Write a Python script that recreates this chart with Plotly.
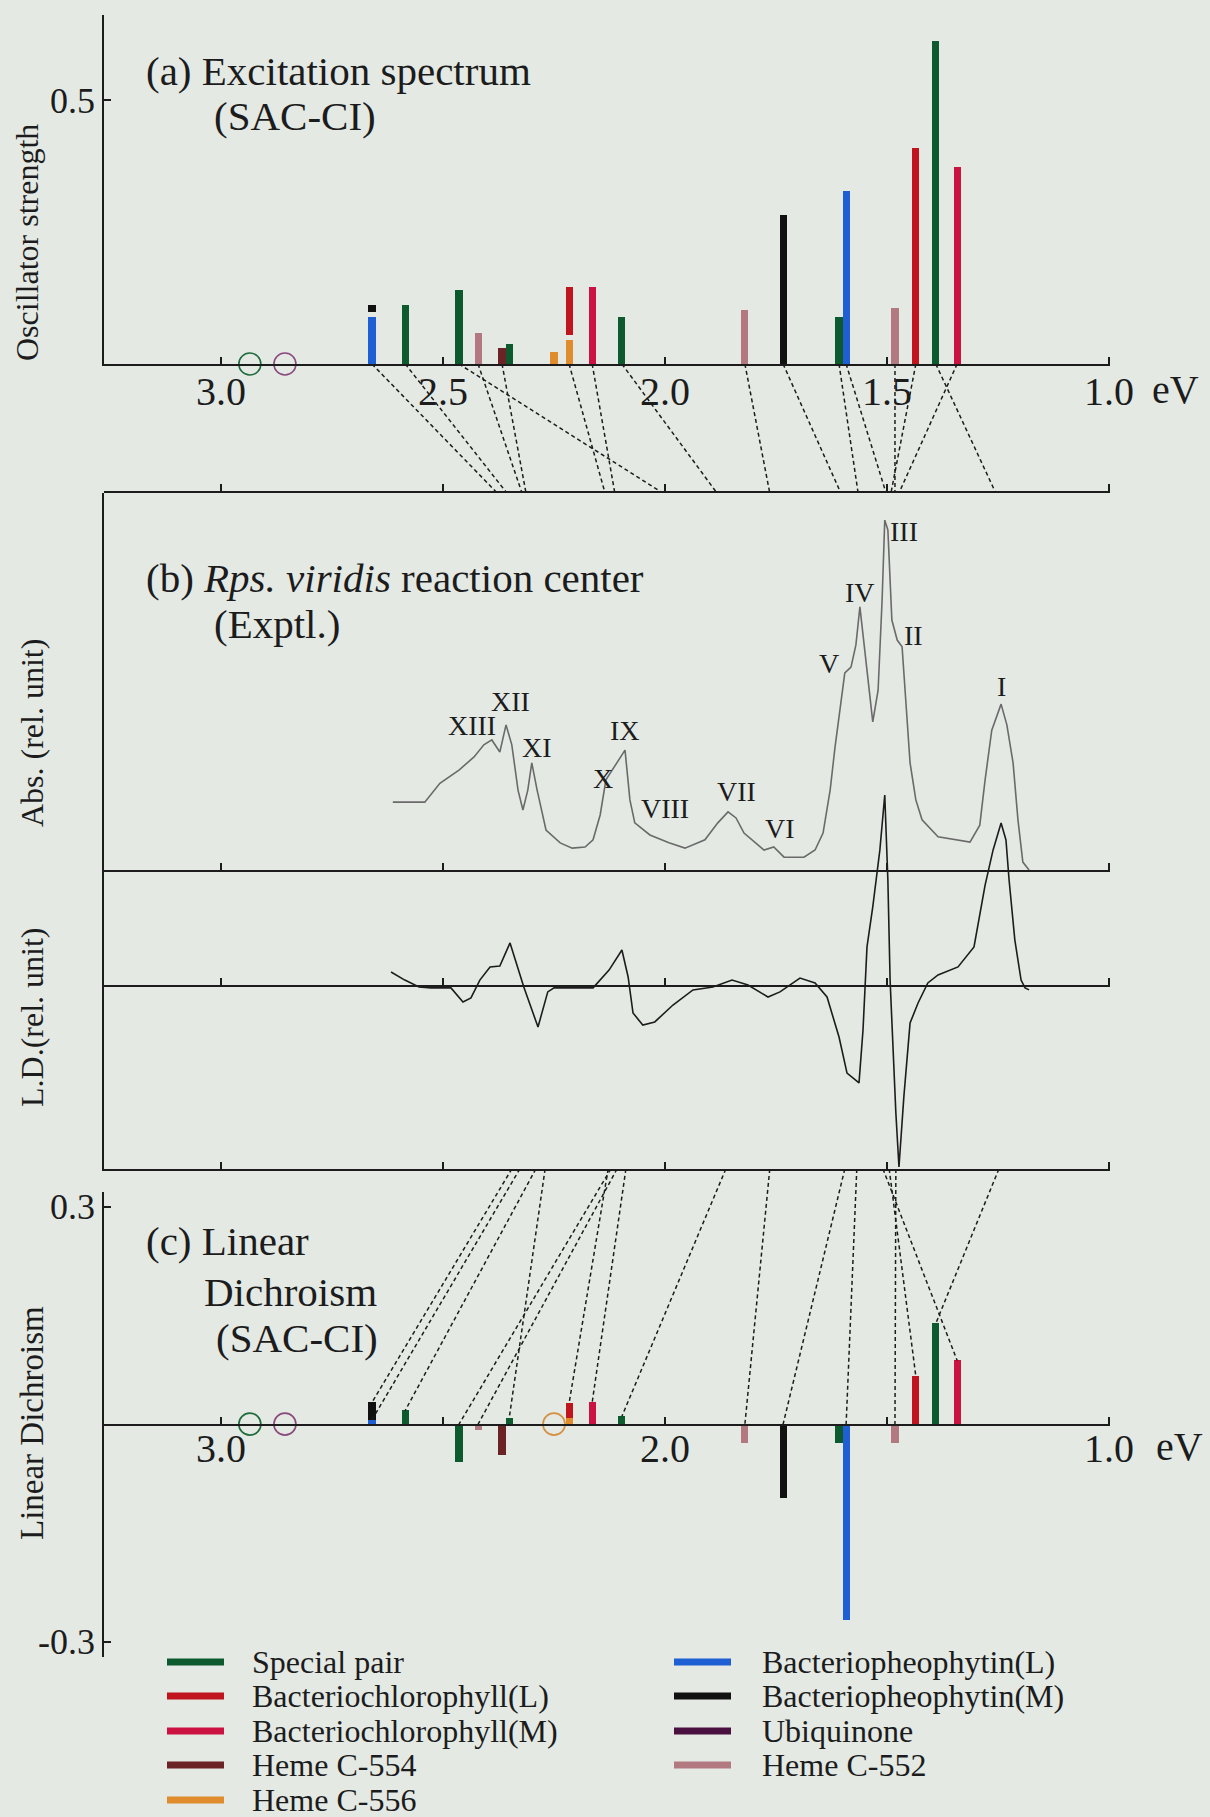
import plotly.graph_objects as go

# ------------------------------------------------------------------ data
groups = ["Special pair", "Bacteriochlorophyll(L)", "Bacteriochlorophyll(M)", "Heme C-554",
          "Heme C-556", "Bacteriopheophytin(L)", "Bacteriopheophytin(M)", "Ubiquinone", "Heme C-552"]

# calculated (SAC-CI) excited states
state_energy = [2.660, 2.660, 2.585, 2.464, 2.421, 2.367, 2.351, 2.250, 2.216, 2.216,
                2.164, 2.097, 1.820, 1.734, 1.608, 1.592, 1.482, 1.435, 1.390, 1.342]
state_group = ["Bacteriopheophytin(L)", "Bacteriopheophytin(M)", "Special pair", "Special pair",
               "Heme C-552", "Heme C-554", "Special pair", "Heme C-556", "Heme C-556",
               "Bacteriochlorophyll(L)", "Bacteriochlorophyll(M)", "Special pair", "Heme C-552",
               "Bacteriopheophytin(M)", "Special pair", "Bacteriopheophytin(L)", "Heme C-552",
               "Bacteriochlorophyll(L)", "Special pair", "Bacteriochlorophyll(M)"]
osc_strength = [0.089, 0.013, 0.112, 0.140, 0.059, 0.030, 0.038, 0.023, 0.045, 0.091,
                0.146, 0.089, 0.102, 0.282, 0.089, 0.328, 0.106, 0.409, 0.612, 0.373]
osc_base = [0.0, 0.099, 0.0, 0.0, 0.0, 0.0, 0.0, 0.0, 0.0, 0.055,
            0.0, 0.0, 0.0, 0.0, 0.0, 0.0, 0.0, 0.0, 0.0, 0.0]
lin_dichroism = [0.006, 0.024, 0.019, -0.052, -0.008, -0.043, 0.008, 0.0, 0.009, 0.020,
                 0.030, 0.011, -0.026, -0.102, -0.026, -0.270, -0.026, 0.066, 0.139, 0.088]
ld_base = [0.0, 0.006, 0.0, 0.0, 0.0, 0.0, 0.0, 0.0, 0.0, 0.009,
           0.0, 0.0, 0.0, 0.0, 0.0, 0.0, 0.0, 0.0, 0.0, 0.0]

# states with zero intensity (open circles)
dark_energy_a = [2.935, 2.856]
dark_group_a = ["Special pair", "Ubiquinone"]
dark_energy_c = [2.935, 2.856, 2.250]
dark_group_c = ["Special pair", "Ubiquinone", "Heme C-556"]

# experimental absorption spectrum (b)
abs_energy = [2.613, 2.541, 2.507, 2.464, 2.430, 2.408, 2.390, 2.372, 2.358, 2.345, 2.331, 2.320,
              2.309, 2.300, 2.288, 2.268, 2.236, 2.209, 2.180, 2.162, 2.146, 2.133, 2.090, 2.079,
              2.068, 2.034, 1.991, 1.955, 1.910, 1.881, 1.858, 1.840, 1.822, 1.777, 1.755, 1.745,
              1.732, 1.687, 1.662, 1.644, 1.628, 1.617, 1.595, 1.581, 1.570, 1.561, 1.547, 1.532,
              1.520, 1.511, 1.505, 1.498, 1.489, 1.477, 1.466, 1.457, 1.448, 1.435, 1.421, 1.385,
              1.347, 1.313, 1.291, 1.279, 1.264, 1.243, 1.230, 1.216, 1.205, 1.194, 1.180]
abs_value = [0.180, 0.180, 0.230, 0.265, 0.300, 0.332, 0.345, 0.313, 0.385, 0.332, 0.212, 0.159,
             0.212, 0.284, 0.212, 0.106, 0.072, 0.058, 0.061, 0.080, 0.146, 0.239, 0.318, 0.186,
             0.125, 0.093, 0.072, 0.058, 0.080, 0.125, 0.154, 0.138, 0.098, 0.053, 0.061, 0.048,
             0.034, 0.034, 0.053, 0.098, 0.212, 0.326, 0.523, 0.538, 0.597, 0.698, 0.557, 0.393,
             0.477, 0.716, 0.928, 0.902, 0.663, 0.610, 0.592, 0.451, 0.284, 0.186, 0.133, 0.088,
             0.080, 0.074, 0.119, 0.239, 0.371, 0.440, 0.385, 0.284, 0.133, 0.021, 0.0]

# experimental linear dichroism spectrum (b)
ld_energy = [2.617, 2.586, 2.554, 2.527, 2.482, 2.455, 2.437, 2.417, 2.394, 2.372, 2.349, 2.318,
             2.286, 2.264, 2.250, 2.162, 2.126, 2.097, 2.083, 2.072, 2.050, 2.023, 1.982, 1.937,
             1.892, 1.849, 1.813, 1.768, 1.741, 1.696, 1.662, 1.635, 1.608, 1.590, 1.563, 1.554,
             1.545, 1.532, 1.516, 1.505, 1.498, 1.493, 1.480, 1.473, 1.462, 1.448, 1.430, 1.408,
             1.385, 1.340, 1.304, 1.279, 1.261, 1.243, 1.232, 1.225, 1.212, 1.198, 1.189, 1.180]
ld_value = [0.082, 0.038, 0.0, -0.005, -0.005, -0.082, -0.060, 0.038, 0.110, 0.115, 0.242, 0.0,
            -0.220, -0.027, -0.005, -0.005, 0.093, 0.203, 0.055, -0.143, -0.209, -0.192, -0.099,
            -0.016, 0.0, 0.038, 0.011, -0.055, -0.027, 0.049, 0.022, -0.055, -0.275, -0.473,
            -0.527, -0.236, 0.220, 0.440, 0.753, 1.055, 0.588, 0.038, -0.692, -0.989, -0.604,
            -0.198, -0.088, 0.022, 0.066, 0.110, 0.220, 0.560, 0.753, 0.901, 0.808, 0.588,
            0.258, 0.038, -0.005, -0.016]

# band labels of the experimental spectrum
band_label = ["XIII", "XII", "XI", "X", "IX", "VIII", "VII", "VI", "V", "IV", "III", "II", "I"]
band_label_energy = [2.435, 2.349, 2.288, 2.140, 2.090, 2.000, 1.840, 1.741, 1.631, 1.561, 1.462, 1.441, 1.243]
band_label_abs = [0.382, 0.446, 0.326, 0.244, 0.371, 0.162, 0.207, 0.109, 0.549, 0.737, 0.899, 0.621, 0.488]

# assignment lines: calculated state (a) -> experimental band (b)
ab_state_index = [0, 2, 3, 4, 5, 8, 10, 11, 12, 13, 14, 15, 16, 17, 18, 19]
ab_band_energy = [2.378, 2.356, 2.005, 2.322, 2.313, 2.135, 2.113, 1.883, 1.764, 1.604,
                  1.565, 1.502, 1.482, 1.491, 1.255, 1.473]
# assignment lines: experimental band (b) -> calculated state (c)
bc_band_energy = [2.345, 2.327, 2.291, 2.122, 2.108, 2.270, 2.128, 2.088, 1.863, 1.764,
                  1.595, 1.568, 1.480, 1.495, 1.248, 1.509]
bc_state_index = [1, 0, 2, 3, 4, 6, 9, 10, 11, 12, 13, 15, 16, 17, 18, 19]

tick_energy = [3.0, 2.5, 2.0, 1.5, 1.0]
tick_text_a = ["3.0", "2.5", "2.0", "1.5", "1.0"]
tick_text_c = ["3.0", "", "2.0", "", "1.0"]

# ------------------------------------------------------------------ style
W, H = 1210, 1817
FONT = "Liberation Serif"
INK = "#1c1c1c"
BG = "#e4e9e4"
colors = {
    "Special pair": "#0c5a2e",
    "Bacteriochlorophyll(L)": "#c0141e",
    "Bacteriochlorophyll(M)": "#cc1240",
    "Heme C-554": "#6b2326",
    "Heme C-556": "#e08c2c",
    "Bacteriopheophytin(L)": "#1f5fd4",
    "Bacteriopheophytin(M)": "#111111",
    "Ubiquinone": "#4a1040",
    "Heme C-552": "#b27a80",
}
circle_colors = {"Special pair": "#1e6b3c", "Ubiquinone": "#8a4a7e", "Heme C-556": "#d49040"}


def px(x):
    return x / W


def py(y):
    return 1 - y / H


X0, X1 = 104, 1110          # pixel span of the energy axis
E_LEFT, E_RIGHT = 3.2635, 0.9977
BAR_W = 0.016

A_RANGE = [0, 0.661]
AB_RANGE = [0, 1]
ABS_RANGE = [0, 1]
LD_RANGE = [-1, 2.714]
C_RANGE = [-0.321, 0.32]
BC_RANGE = [-0.321, 0.352]

fig = go.Figure()

# empty traces so that the axis-only frame lines are drawn
for xa, ya in [("x3", "y3"), ("x5", "y5"), ("x6", "y7")]:
    fig.add_trace(go.Scatter(x=[], y=[], xaxis=xa, yaxis=ya, showlegend=False,
                             hoverinfo="skip"))

# (a) oscillator strength bars
for g in groups:
    idx = [i for i, s in enumerate(state_group) if s == g]
    if not idx:
        continue
    fig.add_trace(go.Bar(
        x=[state_energy[i] for i in idx], y=[osc_strength[i] for i in idx],
        base=[osc_base[i] for i in idx], width=BAR_W,
        marker=dict(color=colors[g], line=dict(width=0)), opacity=1,
        xaxis="x", yaxis="y", showlegend=False, hoverinfo="skip"))

for e, g in zip(dark_energy_a, dark_group_a):
    fig.add_trace(go.Scatter(x=[e], y=[0], mode="markers", xaxis="x", yaxis="y",
                             marker=dict(symbol="circle-open", size=22,
                                         line=dict(width=1.6, color=circle_colors[g]),
                                         color=circle_colors[g]),
                             cliponaxis=False, showlegend=False, hoverinfo="skip"))

# connectors a -> b
ab_x, ab_y = [], []
for i, be in zip(ab_state_index, ab_band_energy):
    ab_x += [state_energy[i], be, None]
    ab_y += [AB_RANGE[1], AB_RANGE[0], None]
fig.add_trace(go.Scatter(x=ab_x, y=ab_y, mode="lines", xaxis="x", yaxis="y2",
                         line=dict(color=INK, width=1.5, dash="4px,3px"),
                         showlegend=False, hoverinfo="skip", cliponaxis=False))

# (b) spectra
fig.add_trace(go.Scatter(x=abs_energy, y=abs_value, mode="lines", xaxis="x2", yaxis="y3",
                         line=dict(color="#6a6a6a", width=1.6), showlegend=False,
                         hoverinfo="skip", cliponaxis=False))
fig.add_trace(go.Scatter(x=ld_energy, y=ld_value, mode="lines", xaxis="x4", yaxis="y4",
                         line=dict(color=INK, width=1.6), showlegend=False,
                         hoverinfo="skip", cliponaxis=False))

# (c) linear dichroism bars
for g in groups:
    idx = [i for i, s in enumerate(state_group) if s == g]
    if not idx:
        continue
    fig.add_trace(go.Bar(
        x=[state_energy[i] for i in idx], y=[lin_dichroism[i] for i in idx],
        base=[ld_base[i] for i in idx], width=BAR_W,
        marker=dict(color=colors[g], line=dict(width=0)), opacity=1,
        xaxis="x6", yaxis="y6", showlegend=False, hoverinfo="skip"))

for e, g in zip(dark_energy_c, dark_group_c):
    fig.add_trace(go.Scatter(x=[e], y=[0], mode="markers", xaxis="x6", yaxis="y6",
                             marker=dict(symbol="circle-open", size=22,
                                         line=dict(width=1.6, color=circle_colors[g]),
                                         color=circle_colors[g]),
                             cliponaxis=False, showlegend=False, hoverinfo="skip"))

# connectors b -> c
bc_x, bc_y = [], []
for be, i in zip(bc_band_energy, bc_state_index):
    top = ld_base[i] + lin_dichroism[i]
    bc_x += [be, state_energy[i], None]
    bc_y += [BC_RANGE[1], max(top, 0), None]
fig.add_trace(go.Scatter(x=bc_x, y=bc_y, mode="lines", xaxis="x6", yaxis="y8",
                         line=dict(color=INK, width=1.5, dash="4px,3px"),
                         showlegend=False, hoverinfo="skip", cliponaxis=False))

# ------------------------------------------------------------------ axes
tickfont = dict(family=FONT, size=40, color=INK)
ytickfont = dict(family=FONT, size=36, color=INK)
xbase = dict(domain=[px(X0), px(X1)], showgrid=False, zeroline=False, showline=True,
             linecolor=INK, linewidth=1.5, tickcolor=INK, tickwidth=1.5, ticklen=7,
             tickmode="array", tickvals=tick_energy, automargin=False, fixedrange=True)
hidden = dict(visible=False, showgrid=False, zeroline=False, fixedrange=True)

layout = dict(
    width=W, height=H, margin=dict(l=0, r=0, t=0, b=0),
    paper_bgcolor=BG, plot_bgcolor="rgba(0,0,0,0)", barmode="overlay", bargap=0,
    font=dict(family=FONT, color=INK),
    xaxis=dict(xbase, range=[E_LEFT, E_RIGHT], anchor="y", side="bottom", ticks="inside",
               ticktext=tick_text_a, showticklabels=True, tickfont=tickfont,
               ticklabelstandoff=-9),
    yaxis=dict(domain=[py(364), py(15)], range=A_RANGE, anchor="x", showline=True,
               linecolor=INK, linewidth=1.5, ticks="inside", ticklen=7, tickwidth=1.5,
               tickcolor=INK, tickvals=[0.5], ticktext=["0.5"], tickfont=ytickfont,
               showgrid=False, zeroline=False, automargin=False, fixedrange=True),
    yaxis2=dict(hidden, domain=[py(493), py(364)], range=AB_RANGE, anchor="x"),
    xaxis2=dict(xbase, matches="x", anchor="y3", side="top", ticks="outside",
                showticklabels=False),
    yaxis3=dict(hidden, domain=[py(870), py(493)], range=ABS_RANGE, anchor="x2"),
    xaxis3=dict(xbase, matches="x", anchor="y3", side="bottom", ticks="inside",
                showticklabels=False),
    xaxis4=dict(xbase, matches="x", anchor="y4", side="bottom", ticks="inside",
                showticklabels=False),
    yaxis4=dict(domain=[py(1169), py(493)], range=LD_RANGE, anchor="x4", showline=True,
                linecolor=INK, linewidth=1.5, ticks="", showticklabels=False,
                showgrid=False, zeroline=False, automargin=False, fixedrange=True),
    xaxis5=dict(xbase, matches="x", anchor="y5", side="top", ticks="outside",
                showticklabels=False),
    yaxis5=dict(hidden, domain=[py(1169), py(987)], anchor="x5"),
    xaxis6=dict(xbase, matches="x", anchor="y7", side="bottom", ticks="inside",
                ticktext=tick_text_c, showticklabels=True, tickfont=tickfont,
                ticklabelstandoff=-12),
    yaxis6=dict(domain=[py(1657), py(1192)], range=C_RANGE, anchor="x6", showline=True,
                linecolor=INK, linewidth=1.5, ticks="inside", ticklen=7, tickwidth=1.5,
                tickcolor=INK, tickvals=[0.3, -0.3], ticktext=["0.3", "-0.3"],
                tickfont=ytickfont, showgrid=False, zeroline=False, automargin=False,
                fixedrange=True),
    yaxis7=dict(hidden, domain=[py(1424), py(1192)], anchor="x6"),
    yaxis8=dict(hidden, domain=[py(1657), py(1169)], range=BC_RANGE, anchor="x6"),
)

# ------------------------------------------------------------------ text
ann = []


def text(t, x, y, size, xanchor="left", angle=0):
    ann.append(dict(text=t, x=px(x), y=py(y), xref="paper", yref="paper", showarrow=False,
                    xanchor=xanchor, yanchor="middle", textangle=angle,
                    font=dict(family=FONT, size=size, color=INK)))


TS = 41
text("(a) Excitation spectrum", 144, 71, TS)
text("(SAC-CI)", 212, 116, TS)
text("(b) <i>Rps. viridis</i> reaction center", 144, 578, TS)
text("(Exptl.)", 212, 624, TS)
text("(c) Linear", 144, 1241, TS)
text("Dichroism", 202, 1292, TS)
text("(SAC-CI)", 214, 1338, TS)

text("Oscillator strength", 27, 243, 32, "center", -90)
text("Abs. (rel. unit)", 32, 733, 32, "center", -90)
text("L.D.(rel. unit)", 32, 1017, 32, "center", -90)
text("Linear Dichroism", 32, 1423, 33, "center", -90)

text("eV", 1150, 389, 40)
text("eV", 1154, 1446, 40)

for lab, e, a in zip(band_label, band_label_energy, band_label_abs):
    ann.append(dict(text=lab, x=e, y=a, xref="x2", yref="y3", showarrow=False,
                    xanchor="center", yanchor="middle",
                    font=dict(family=FONT, size=28, color=INK)))

# legend
shapes = []
rows = [1662, 1696, 1731, 1765, 1800]
cols = [(167, 224, 250), (674, 731, 760)]
for k, g in enumerate(groups):
    c = 0 if k < 5 else 1
    r = k if k < 5 else k - 5
    x_a, x_b, x_t = cols[c]
    y = rows[r]
    shapes.append(dict(type="line", xref="paper", yref="paper", x0=px(x_a), x1=px(x_b),
                       y0=py(y), y1=py(y), line=dict(color=colors[g], width=7)))
    text(g, x_t, y, 32)

layout["annotations"] = ann
layout["shapes"] = shapes
fig.update_layout(layout)
fig.write_html("out.html")
